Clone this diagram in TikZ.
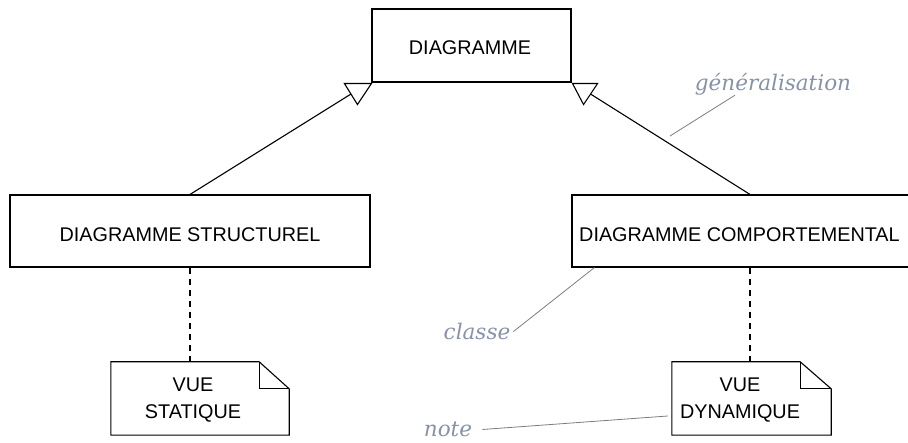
\documentclass[tikz,border=0pt]{standalone}
\usepackage{fontspec}
\newfontfamily\boxfont{Liberation Sans}
\newfontfamily\annotfont{DejaVu Serif}
\usetikzlibrary{calc}
\definecolor{annot}{RGB}{135,146,168}
\definecolor{leader}{RGB}{125,125,125}
\begin{document}
\begin{tikzpicture}[x=1pt,y=-1pt,
  box/.style={draw=black,line width=1.1pt,inner sep=0pt},
  area/.style={inner sep=0pt},
  lbl/.style={font=\boxfont\fontsize{19.8}{27}\selectfont,inner sep=0pt,text height=14pt,text depth=0pt},
  notelbl/.style={font=\boxfont\fontsize{19.8}{27}\selectfont,inner sep=0pt,align=center},
  annot/.style={font=\annotfont\fontsize{21.5}{26}\selectfont\itshape,text=annot,inner sep=0pt},
  leaderline/.style={draw=leader,line width=0.8pt},
  conn/.style={line width=1.1pt},
  dep/.style={line width=1.1pt,dash pattern=on 6pt off 5pt},
  tri/.style={draw=black,line width=1.1pt,fill=white,line join=miter},
  noteshape/.style={draw=black,line width=1.1pt,line join=miter}]
\useasboundingbox (0,0) rectangle (908,443);
\clip (0,0) rectangle (908,443);

% class boxes
\node[box,minimum width=199pt,minimum height=73pt] (diag) at (471.5,45.5) {};
\node[lbl] (diagT) at (470,47.5) {DIAGRAMME};

\node[box,minimum width=360pt,minimum height=72pt] (struct) at (190,231) {};
\node[lbl] (structT) at (190,234.5) {DIAGRAMME STRUCTUREL};

\node[box,minimum width=356pt,minimum height=72pt] (comp) at (750,231) {};
\node[lbl,anchor=west] (compT) at (579,234.5) {DIAGRAMME COMPORTEMENTAL};

% notes
\node[area,minimum width=178pt,minimum height=73pt] (statique) at (200,398.5) {};
\draw[noteshape] (statique.north west) -- ($(statique.north east)+(-30,0)$)
  -- ($(statique.north east)+(0,27)$) -- (statique.south east)
  -- (statique.south west) -- cycle;
\draw[noteshape] ($(statique.north east)+(-30,0)$) |- ($(statique.north east)+(0,27)$);
\node[notelbl] (statiqueT) at (193,400) {VUE\\STATIQUE};

\node[area,minimum width=159pt,minimum height=73pt] (dynamique) at (751.5,398.5) {};
\draw[noteshape] (dynamique.north west) -- ($(dynamique.north east)+(-31,0)$)
  -- ($(dynamique.north east)+(0,27)$) -- (dynamique.south east)
  -- (dynamique.south west) -- cycle;
\draw[noteshape] ($(dynamique.north east)+(-31,0)$) |- ($(dynamique.north east)+(0,27)$);
\node[notelbl] (dynamiqueT) at (740,400) {VUE\\DYNAMIQUE};

% generalisation triangles
\coordinate (tlA) at ($(diag.south west)+(0,1)$);
\coordinate (tlB) at ($(diag.south west)+(-27,1)$);
\coordinate (tlC) at ($(diag.south west)+(-14,22)$);
\coordinate (trA) at ($(diag.south east)+(1,1)$);
\coordinate (trB) at ($(diag.south east)+(26,1)$);
\coordinate (trC) at ($(diag.south east)+(12,22)$);
\draw[conn] (struct.north) -- ($(tlB)!0.5!(tlC)$);
\draw[conn] (comp.north) -- ($(trB)!0.5!(trC)$);
\draw[tri] (tlA) -- (tlB) -- (tlC) -- cycle;
\draw[tri] (trA) -- (trB) -- (trC) -- cycle;

% dependencies
\draw[dep] (struct.south) -- (struct.south |- statique.north);
\draw[dep] (comp.south) -- (comp.south |- dynamique.north);

% annotations
\node[annot] (gen) at (773,84) {généralisation};
\coordinate (genTip) at (670,136);
\draw[leaderline] ([xshift=-38pt]gen.south) -- (genTip);

\node[annot] (classe) at (477,331.5) {classe};
\draw[leaderline] ([xshift=3pt]classe.east) -- ([xshift=23pt]comp.south west);

\node[annot] (note) at (448,429.5) {note};
\draw[leaderline] ([xshift=10pt]note.east) -- ($(dynamique.west)+(-4,17.5)$);
\end{tikzpicture}
\end{document}
